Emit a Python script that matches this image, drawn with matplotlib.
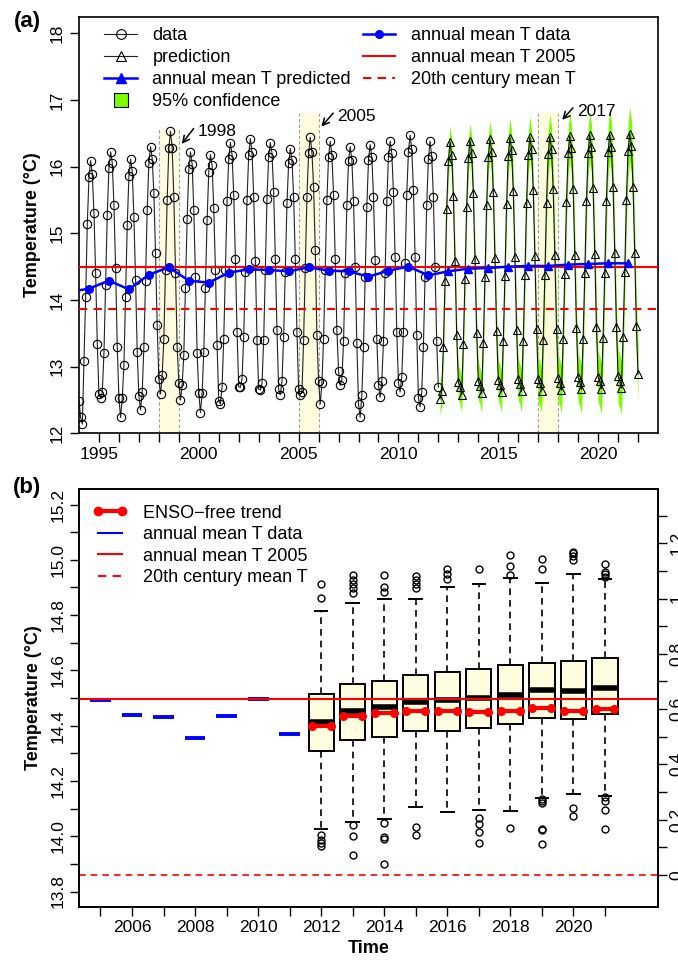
import numpy as np
import matplotlib
matplotlib.use("Agg")
import matplotlib.pyplot as plt
from matplotlib.lines import Line2D
from matplotlib.ticker import FixedLocator, FixedFormatter

plt.rcParams['font.family'] = ['Liberation Sans', 'DejaVu Sans']

# ---------------- panel (a) ----------------
# monthly temperature, one row per year, points at year + k/12
obs_first_year = 1994
obs_monthly = [
    [12.49, 12.24, 12.14, 13.08, 14.04, 15.14, 15.84, 16.09, 15.89, 15.30, 14.40, 13.34],
    [12.59, 12.53, 12.62, 13.20, 14.22, 15.28, 15.98, 16.22, 16.06, 15.42, 14.48, 13.30],
    [12.53, 12.24, 12.53, 13.02, 14.05, 15.12, 15.86, 16.11, 15.93, 15.25, 14.30, 13.22],
    [12.56, 12.35, 12.62, 13.30, 14.28, 15.35, 16.05, 16.30, 16.12, 15.60, 14.70, 13.62],
    [12.81, 12.59, 12.88, 13.42, 14.45, 15.50, 16.28, 16.53, 16.28, 15.55, 14.40, 13.30],
    [12.76, 12.50, 12.72, 13.18, 14.18, 15.22, 15.96, 16.22, 16.04, 15.35, 14.35, 13.20],
    [12.61, 12.31, 12.60, 13.22, 14.18, 15.20, 15.92, 16.18, 16.02, 15.38, 14.45, 13.32],
    [12.49, 12.44, 12.70, 13.42, 14.45, 15.48, 16.12, 16.36, 16.18, 15.58, 14.62, 13.52],
    [12.70, 12.69, 12.82, 13.45, 14.42, 15.50, 16.18, 16.42, 16.22, 15.55, 14.58, 13.40],
    [12.66, 12.65, 12.75, 13.40, 14.45, 15.52, 16.15, 16.36, 16.20, 15.62, 14.62, 13.55],
    [12.66, 12.58, 12.78, 13.45, 14.42, 15.45, 16.05, 16.27, 16.10, 15.55, 14.62, 13.52],
    [12.67, 12.58, 12.62, 13.40, 14.48, 15.55, 16.20, 16.44, 16.22, 15.70, 14.75, 13.48],
    [12.79, 12.44, 12.75, 13.42, 14.45, 15.50, 16.15, 16.38, 16.18, 15.58, 14.62, 13.55],
    [12.93, 12.72, 12.80, 13.38, 14.40, 15.42, 16.08, 16.30, 16.10, 15.48, 14.50, 13.35],
    [12.44, 12.24, 12.58, 13.30, 14.35, 15.40, 16.10, 16.33, 16.14, 15.55, 14.60, 13.42],
    [12.72, 12.54, 12.78, 13.38, 14.40, 15.48, 16.15, 16.38, 16.20, 15.62, 14.65, 13.52],
    [12.76, 12.62, 12.85, 13.52, 14.55, 15.58, 16.22, 16.47, 16.26, 15.65, 14.65, 13.48],
    [12.53, 12.40, 12.62, 13.30, 14.35, 15.42, 16.12, 16.38, 16.16, 15.55, 14.50, 13.38],
    [12.69],
]

# prediction starts one month after 2012.0
pred_first = 2012 + 1 / 12
pred_monthly = [
    [12.52, 12.64, 13.29, 14.28, 15.37, 16.08, 16.37, 16.18, 15.56, 14.58, 13.48],
    [12.77, 12.70, 12.58, 13.34, 14.32, 15.40, 16.13, 16.39, 16.21, 15.60, 14.61, 13.51],
    [12.79, 12.71, 12.60, 13.36, 14.34, 15.42, 16.15, 16.41, 16.22, 15.62, 14.63, 13.53],
    [12.80, 12.73, 12.62, 13.38, 14.36, 15.44, 16.16, 16.43, 16.25, 15.64, 14.65, 13.55],
    [12.81, 12.74, 12.63, 13.39, 14.37, 15.45, 16.18, 16.44, 16.26, 15.65, 14.66, 13.56],
    [12.81, 12.75, 12.64, 13.40, 14.38, 15.46, 16.19, 16.45, 16.27, 15.66, 14.67, 13.57],
    [12.83, 12.76, 12.65, 13.41, 14.39, 15.47, 16.20, 16.46, 16.28, 15.67, 14.68, 13.58],
    [12.84, 12.77, 12.66, 13.42, 14.40, 15.48, 16.21, 16.47, 16.29, 15.68, 14.69, 13.59],
    [12.85, 12.78, 12.67, 13.43, 14.41, 15.49, 16.22, 16.48, 16.30, 15.69, 14.70, 13.60],
    [12.86, 12.79, 12.68, 13.44, 14.42, 15.50, 16.23, 16.49, 16.31, 15.70, 14.71, 13.61],
    [12.89],
]
# half width of the 95% band for each row of pred_monthly
ci_halfwidth = [0.24, 0.26, 0.28, 0.30, 0.31, 0.33, 0.35, 0.36, 0.38, 0.40, 0.42]

mean_years_obs = list(range(1993, 2012))
mean_obs = [14.12, 14.17, 14.29, 14.16, 14.38, 14.49, 14.29, 14.26, 14.41, 14.46,
            14.45, 14.43, 14.49, 14.44, 14.43, 14.35, 14.44, 14.50, 14.37]
mean_years_pred = list(range(2012, 2022))
mean_pred = [14.43, 14.47, 14.48, 14.50, 14.51, 14.51, 14.53, 14.54, 14.55, 14.55]

mean_2005 = 14.495
mean_20th = 13.86

enso_years = [1998, 2005, 2017]
enso_band_top = [16.57, 16.80, 16.82]
enso_arrow_from = [(1999.74, 16.57), (2006.73, 16.80), (2018.74, 16.88)]
enso_arrow_to = [(1999.15, 16.34), (2006.14, 16.60), (2018.20, 16.70)]

# ---------------- panel (b) ----------------
bar_years = list(range(2005, 2012))
bar_means = [14.493, 14.44, 14.43, 14.354, 14.436, 14.495, 14.37]

box_years = list(range(2012, 2022))
box_q1 = [14.310, 14.348, 14.358, 14.381, 14.382, 14.393, 14.406, 14.428, 14.424, 14.443]
box_med = [14.413, 14.454, 14.469, 14.486, 14.493, 14.499, 14.511, 14.529, 14.525, 14.537]
box_q3 = [14.513, 14.551, 14.562, 14.583, 14.595, 14.604, 14.620, 14.626, 14.635, 14.644]
box_lo = [14.027, 14.052, 14.064, 14.107, 14.089, 14.095, 14.090, 14.139, 14.152, 14.147]
box_hi = [14.816, 14.843, 14.858, 14.858, 14.900, 14.912, 14.933, 14.917, 14.948, 14.929]
box_fliers = [
    [14.861, 14.911, 14.005, 13.987, 13.975, 13.965],
    [14.881, 14.897, 14.912, 14.927, 14.945, 14.041, 13.999, 13.932],
    [14.883, 14.903, 14.945, 14.047, 13.996, 13.991, 13.900],
    [14.897, 14.911, 14.927, 14.942, 14.032, 14.005],
    [14.929, 14.947, 14.965],
    [14.966, 14.065, 14.043, 14.017, 13.977],
    [14.945, 14.978, 15.018, 14.031],
    [14.966, 15.002, 14.134, 14.128, 14.122, 14.027, 14.023, 13.973],
    [14.999, 15.013, 15.023, 15.029, 14.102, 14.073],
    [14.939, 14.947, 14.957, 14.985, 14.141, 14.129, 14.095, 14.025],
]
enso_free = [14.400, 14.436, 14.445, 14.454, 14.454, 14.448, 14.454, 14.465, 14.454, 14.459]

green = '#7CFC00'
band_yellow = '#FFFCE0'

fig = plt.figure(figsize=(6.78, 9.61), dpi=100)
axa = fig.add_axes([0.1165, 0.549, 0.854, 0.4335])
axb = fig.add_axes([0.1165, 0.0565, 0.854, 0.4343])

# ---- (a) ----
obs = np.concatenate([np.asarray(r, float) for r in obs_monthly])
t_obs = obs_first_year + np.arange(len(obs)) / 12
pred = np.concatenate([np.asarray(r, float) for r in pred_monthly])
t_pred = pred_first + np.arange(len(pred)) / 12
hw = np.repeat(ci_halfwidth, [len(r) for r in pred_monthly])

for yr, top in zip(enso_years, enso_band_top):
    axa.fill_between([yr, yr + 1], 12.0, top, color=band_yellow, lw=0, zorder=0)
    axa.vlines([yr, yr + 1], 12.0, top, colors='#A0A0A0', linestyles=(0, (3, 2)),
               lw=0.8, zorder=0.5)

axa.fill_between(t_pred, pred - hw, pred + hw, color=green, lw=0, zorder=1)
axa.plot(t_obs, obs, '-o', color='#222222', lw=0.8, ms=6, mfc='none', mec='black',
         mew=0.8, zorder=2)
axa.plot(t_pred, pred, '-^', color='#111111', lw=0.8, ms=6, mfc='none', mec='black',
         mew=0.8, zorder=2)

axa.axhline(mean_2005, color='red', lw=1.5, zorder=3)
axa.axhline(mean_20th, color='red', lw=1.5, ls=(0, (4, 3)), zorder=3)

mx_obs = np.array(mean_years_obs) + 0.5
mx_pred = np.array(mean_years_pred) + 0.5
axa.plot(np.r_[mx_obs, mx_pred], np.r_[mean_obs, mean_pred], color='blue', lw=1.8, zorder=4)
axa.plot(mx_obs, mean_obs, 'o', color='blue', ms=5.5, zorder=5)
axa.plot(mx_pred, mean_pred, '^', color='blue', ms=6, zorder=5)

for yr, p0, p1 in zip(enso_years, enso_arrow_from, enso_arrow_to):
    axa.annotate('', xy=p1, xytext=p0,
                 arrowprops=dict(arrowstyle='->', color='black', lw=1.1,
                                 shrinkA=0, shrinkB=0, mutation_scale=12), zorder=6)
    axa.text(p0[0] + 0.2, p0[1] - 0.05, str(yr), fontsize=12.5, va='center', ha='left')

axa.set_xlim(1994, 2023)
axa.set_ylim(12.0, 18.245)
axa.set_xticks(range(1995, 2023))
axa.set_xticklabels([str(y) if y % 5 == 0 else '' for y in range(1995, 2023)])
axa.set_yticks(range(12, 19))
axa.set_ylabel('Temperature (\u00b0C)', fontsize=13, fontweight='bold', labelpad=6)

h_data = Line2D([], [], color='#222222', lw=0.8, marker='o', ms=7, mfc='none', mec='black', mew=0.8)
h_pred = Line2D([], [], color='#222222', lw=0.8, marker='^', ms=7, mfc='none', mec='black', mew=0.8)
h_mpred = Line2D([], [], color='blue', lw=1.8, marker='^', ms=7)
h_ci = Line2D([], [], ls='none', marker='s', ms=10, mfc=green, mec='black', mew=0.8)
h_mobs = Line2D([], [], color='blue', lw=1.8, marker='o', ms=5.5)
h_2005 = Line2D([], [], color='red', lw=1.5)
h_20th = Line2D([], [], color='red', lw=1.5, ls=(0, (4, 3)))

leg_kw = dict(frameon=False, fontsize=13, handlelength=1.8, handletextpad=0.85,
              labelspacing=0.27, borderaxespad=0, borderpad=0, loc='upper left', numpoints=1)
leg1 = axa.legend([h_data, h_pred, h_mpred, h_ci],
                  ['data', 'prediction', 'annual mean T predicted', '95% confidence'],
                  bbox_to_anchor=(0.044, 0.975), **leg_kw)
axa.add_artist(leg1)
axa.legend([h_mobs, h_2005, h_20th],
           ['annual mean T data', 'annual mean T 2005', '20th century mean T'],
           bbox_to_anchor=(0.49, 0.975), **leg_kw)

# ---- (b) ----
stats = []
for i in range(len(box_years)):
    stats.append(dict(med=box_med[i], q1=box_q1[i], q3=box_q3[i],
                      whislo=box_lo[i], whishi=box_hi[i], fliers=box_fliers[i]))
axb.bxp(stats, positions=box_years, widths=0.8, capwidths=0.4, patch_artist=True,
        boxprops=dict(facecolor='#FFFDE0', edgecolor='black', lw=1.4),
        medianprops=dict(color='black', lw=4, solid_capstyle='butt'),
        whiskerprops=dict(color='black', lw=1.2, ls=(0, (4, 3))),
        capprops=dict(color='black', lw=1.4),
        flierprops=dict(marker='o', ms=5, mfc='none', mec='black', mew=1.0),
        manage_ticks=False, zorder=2)

axb.hlines(bar_means, np.array(bar_years) - 0.33, np.array(bar_years) + 0.33,
           colors='blue', lw=2.8, zorder=3)
axb.axhline(mean_2005, color='red', lw=1.5, zorder=3)
axb.axhline(mean_20th, color='red', lw=1.2, ls=(0, (4, 3)), zorder=3)
for yr, v in zip(box_years, enso_free):
    axb.plot([yr - 0.3, yr + 0.3], [v, v], '-o', color='red', lw=3, ms=5.5, zorder=4)

axb.set_xlim(2004.32, 2022.68)
axb.set_ylim(13.745, 15.255)
axb.set_xticks(range(2005, 2022))
axb.set_xticklabels([str(y) if y % 2 == 0 else '' for y in range(2005, 2022)])
yt = np.round(np.arange(13.8, 15.21, 0.1), 1)
axb.yaxis.set_major_locator(FixedLocator(yt))
axb.yaxis.set_major_formatter(FixedFormatter(['%.1f' % v if round(v * 10) % 2 == 0 else '' for v in yt]))
axb.set_ylabel('Temperature (\u00b0C)', fontsize=13, fontweight='bold', labelpad=6)
axb.set_xlabel('Time', fontsize=13, fontweight='bold', labelpad=4)

axr = axb.twinx()
axr.set_ylim(13.745 - mean_20th, 15.255 - mean_20th)
rt = np.round(np.arange(0, 1.31, 0.1), 1)
axr.yaxis.set_major_locator(FixedLocator(rt))
axr.yaxis.set_major_formatter(FixedFormatter(['%g' % v if round(v * 10) % 2 == 0 else '' for v in rt]))

h_enso = Line2D([], [], color='red', lw=3, marker='o', ms=6)
h_bar = Line2D([], [], color='blue', lw=1.5)
axb.legend([h_enso, h_bar, h_2005, h_20th],
           ['ENSO\u2212free trend', 'annual mean T data', 'annual mean T 2005', '20th century mean T'],
           bbox_to_anchor=(0.024, 0.963), frameon=False, fontsize=13, handlelength=1.9,
           handletextpad=0.85, labelspacing=0.25, borderaxespad=0, borderpad=0,
           loc='upper left', numpoints=2)

for ax in (axa, axb, axr):
    for s in ax.spines.values():
        s.set_linewidth(1.2)
    ax.tick_params(length=6.5, width=1.0, labelsize=12.5, pad=3)
for ax in (axa, axb):
    plt.setp(ax.get_yticklabels(), rotation=90, va='center')
plt.setp(axr.get_yticklabels(), rotation=90, va='center')
axa.tick_params(axis='y', pad=4)
axr.tick_params(axis='y', pad=2)

fig.text(0.04, 0.978, '(a)', fontsize=16, fontweight='bold', ha='center', va='center')
fig.text(0.04, 0.493, '(b)', fontsize=16, fontweight='bold', ha='center', va='center')

fig.savefig('out.png', dpi=100)
